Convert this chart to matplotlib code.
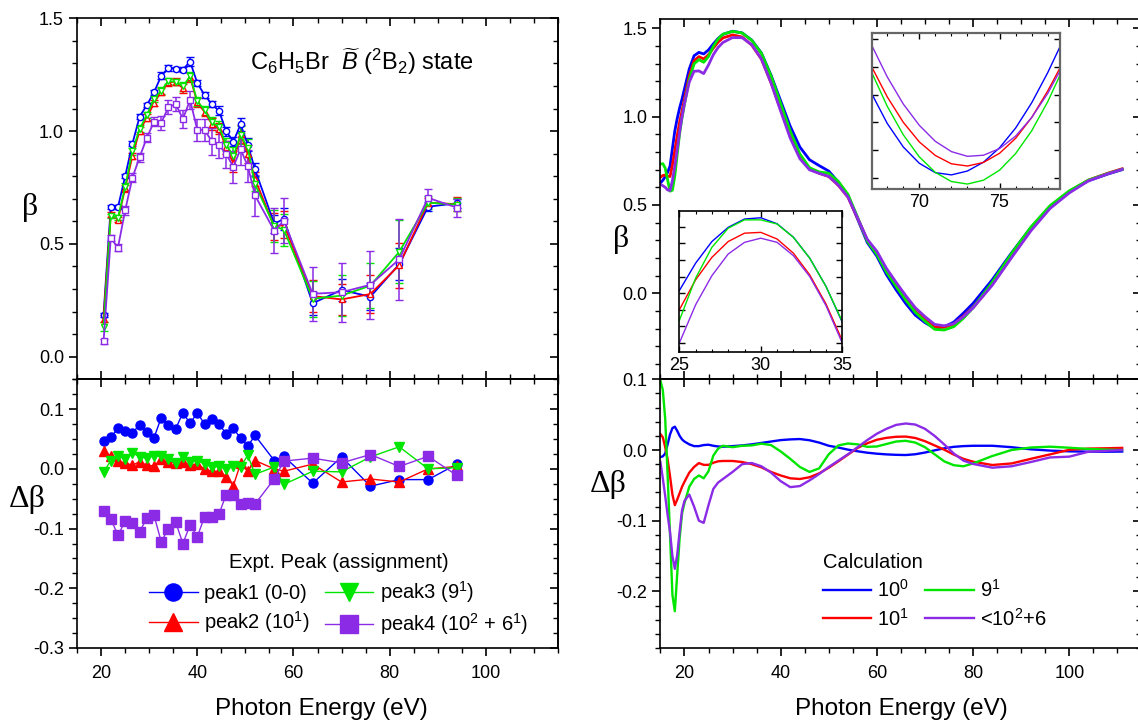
import matplotlib
matplotlib.use('Agg')
import matplotlib.pyplot as plt
from matplotlib.ticker import MultipleLocator, NullFormatter

plt.rcParams['font.family'] = 'Liberation Sans'
plt.rcParams['mathtext.fontset'] = 'custom'
plt.rcParams['mathtext.rm'] = 'Liberation Sans'
plt.rcParams['mathtext.it'] = 'Liberation Sans:italic'
plt.rcParams['axes.linewidth'] = 1.2

BLUE, RED, GREEN, PURPLE = '#0000ff', '#ff0000', '#00e600', '#8b2be6'

# ---- experimental data (left panels) ----
expt_E = [20.5, 22, 23.5, 25, 26.5, 28, 29.5, 31, 32.5, 34, 35.5, 37, 38.5, 40, 41.5,
          43, 44.5, 46, 47.5, 49, 50.5, 52, 56, 58, 64, 70, 76, 82, 88, 94]

beta_peak1 = [0.185, 0.663, 0.663, 0.800, 0.944, 1.064, 1.115, 1.172, 1.245, 1.280, 1.276, 1.273,
              1.308, 1.213, 1.160, 1.120, 1.090, 1.000, 0.953, 1.030, 0.940, 0.830, 0.590, 0.610,
              0.237, 0.296, 0.266, 0.410, 0.665, 0.680]
beta_peak2 = [0.169, 0.631, 0.608, 0.747, 0.890, 1.002, 1.059, 1.125, 1.175, 1.217, 1.219, 1.190,
              1.239, 1.127, 1.085, 1.032, 1.011, 0.928, 0.857, 0.988, 0.898, 0.788, 0.576, 0.585,
              0.269, 0.254, 0.278, 0.406, 0.683, 0.676]
beta_peak3 = [0.133, 0.624, 0.616, 0.754, 0.911, 1.010, 1.071, 1.142, 1.180, 1.222, 1.218, 1.199,
              1.243, 1.133, 1.093, 1.039, 1.019, 0.940, 0.889, 0.982, 0.925, 0.765, 0.579, 0.563,
              0.257, 0.271, 0.315, 0.465, 0.683, 0.674]
beta_peak4 = [0.068, 0.526, 0.484, 0.649, 0.793, 0.885, 0.970, 1.042, 1.037, 1.106, 1.120, 1.054,
              1.138, 1.005, 1.005, 0.956, 0.939, 0.898, 0.842, 0.920, 0.845, 0.715, 0.559, 0.602,
              0.279, 0.286, 0.319, 0.432, 0.704, 0.661]

err_peak1 = [0.01, 0.01, 0.01, 0.01, 0.01, 0.01, 0.01, 0.01, 0.015, 0.015, 0.01, 0.01, 0.02, 0.015,
             0.015, 0.015, 0.02, 0.02, 0.02, 0.03, 0.03, 0.03, 0.04, 0.05, 0.05, 0.05, 0.06, 0.07,
             0.02, 0.02]
err_peak2 = [0.015, 0.01, 0.01, 0.015, 0.015, 0.015, 0.015, 0.015, 0.015, 0.015, 0.015, 0.02, 0.02,
             0.02, 0.02, 0.025, 0.025, 0.03, 0.04, 0.04, 0.04, 0.03, 0.06, 0.06, 0.07, 0.07, 0.085,
             0.1, 0.02, 0.03]
err_peak3 = [0.02, 0.01, 0.01, 0.015, 0.015, 0.015, 0.015, 0.015, 0.015, 0.015, 0.015, 0.02, 0.02,
             0.02, 0.02, 0.025, 0.025, 0.03, 0.04, 0.04, 0.04, 0.03, 0.07, 0.07, 0.08, 0.09, 0.1,
             0.14, 0.03, 0.03]
err_peak4 = [0.01, 0.015, 0.015, 0.02, 0.02, 0.02, 0.02, 0.02, 0.03, 0.03, 0.03, 0.04, 0.04, 0.05,
             0.05, 0.06, 0.06, 0.06, 0.07, 0.07, 0.07, 0.09, 0.1, 0.1, 0.12, 0.13, 0.15, 0.18,
             0.04, 0.04]

dbeta_peak1 = [0.046, 0.053, 0.068, 0.063, 0.060, 0.074, 0.062, 0.052, 0.086, 0.074, 0.067, 0.094,
               0.076, 0.094, 0.075, 0.084, 0.075, 0.059, 0.068, 0.051, 0.038, 0.056, 0.014, 0.021,
               -0.024, 0.020, -0.029, -0.018, -0.018, 0.008]
dbeta_peak2 = [0.030, 0.021, 0.013, 0.010, 0.006, 0.012, 0.006, 0.005, 0.016, 0.011, 0.010, 0.011,
               0.007, 0.008, 0.0, -0.004, -0.004, -0.013, -0.028, 0.009, -0.004, 0.014, 0.0, -0.004,
               0.008, -0.022, -0.017, -0.022, 0.0, 0.004]
dbeta_peak3 = [-0.006, 0.014, 0.021, 0.017, 0.027, 0.020, 0.018, 0.022, 0.021, 0.016, 0.009, 0.020,
               0.011, 0.014, 0.008, 0.003, 0.004, -0.001, 0.004, 0.003, 0.023, -0.009, 0.003, -0.026,
               -0.004, -0.005, 0.020, 0.037, 0.0, 0.002]
dbeta_peak4 = [-0.071, -0.084, -0.111, -0.088, -0.091, -0.105, -0.083, -0.078, -0.122, -0.100,
               -0.089, -0.125, -0.094, -0.114, -0.080, -0.080, -0.076, -0.043, -0.043, -0.059,
               -0.057, -0.059, -0.017, 0.013, 0.018, 0.010, 0.024, 0.004, 0.021, -0.011]

expt_labels = ['peak1 (0-0)', 'peak2 (10$^1$)', 'peak3 (9$^1$)', 'peak4 (10$^2$ + 6$^1$)']

# ---- calculated curves (right panels) ----
calc_E = [15, 15.5, 16, 16.5, 17, 17.5, 18, 18.5, 19, 19.5, 20, 21, 22, 23, 24, 25, 26, 27, 28,
          30, 32, 34, 36, 38, 40, 42, 44, 46, 48, 50, 52, 54, 56, 58, 60, 62, 64, 66, 68, 70,
          72, 74, 76, 78, 80, 84, 88, 92, 96, 100, 104, 108, 111]

beta_c100 = [0.624, 0.64, 0.66, 0.685, 0.72, 0.82, 0.92, 0.99, 1.05, 1.10, 1.157, 1.27, 1.345,
             1.364, 1.355, 1.378, 1.412, 1.443, 1.466, 1.484, 1.474, 1.433, 1.36, 1.235, 1.09,
             0.945, 0.828, 0.756, 0.723, 0.692, 0.63, 0.551, 0.42, 0.288, 0.21, 0.105, 0.02,
             -0.058, -0.124, -0.166, -0.198, -0.19, -0.163, -0.112, -0.057, 0.077, 0.229, 0.371,
             0.49, 0.575, 0.637, 0.675, 0.70]
beta_c101 = [0.657, 0.667, 0.669, 0.664, 0.661, 0.726, 0.809, 0.893, 0.969, 1.033, 1.100, 1.230,
             1.316, 1.340, 1.327, 1.350, 1.388, 1.422, 1.446, 1.463, 1.451, 1.405, 1.326, 1.192,
             1.040, 0.890, 0.772, 0.704, 0.680, 0.661, 0.611, 0.544, 0.425, 0.301, 0.230, 0.128,
             0.046, -0.032, -0.101, -0.150, -0.191, -0.192, -0.174, -0.130, -0.080, 0.050, 0.206,
             0.358, 0.485, 0.577, 0.641, 0.680, 0.705]
beta_c91 = [0.732, 0.734, 0.709, 0.642, 0.578, 0.584, 0.665, 0.788, 0.905, 0.995, 1.070, 1.210,
            1.299, 1.323, 1.308, 1.341, 1.398, 1.440, 1.467, 1.483, 1.474, 1.432, 1.359, 1.231,
            1.075, 0.918, 0.789, 0.711, 0.687, 0.680, 0.633, 0.560, 0.430, 0.296, 0.220, 0.120,
            0.039, -0.038, -0.108, -0.158, -0.204, -0.208, -0.189, -0.141, -0.082, 0.063, 0.225,
            0.374, 0.496, 0.580, 0.641, 0.678, 0.702]
beta_c102 = [0.617, 0.609, 0.600, 0.585, 0.582, 0.639, 0.719, 0.815, 0.915, 1.000, 1.073, 1.196,
             1.257, 1.259, 1.244, 1.293, 1.351, 1.392, 1.420, 1.448, 1.447, 1.407, 1.327, 1.191,
             1.032, 0.878, 0.762, 0.699, 0.679, 0.662, 0.612, 0.545, 0.426, 0.306, 0.238, 0.141,
             0.062, -0.013, -0.082, -0.132, -0.176, -0.184, -0.172, -0.133, -0.083, 0.046, 0.202,
             0.353, 0.480, 0.568, 0.637, 0.676, 0.702]

dbeta_c100 = [-0.010, -0.009, -0.005, 0.008, 0.022, 0.031, 0.033, 0.027, 0.020, 0.015, 0.012,
              0.008, 0.0055, 0.0055, 0.007, 0.0075, 0.006, 0.005, 0.0047, 0.0055, 0.0065, 0.008,
              0.010, 0.012, 0.014, 0.015, 0.0155, 0.0138, 0.0105, 0.006, 0.0035, 0.0005, -0.0018,
              -0.0038, -0.0052, -0.0062, -0.0068, -0.0071, -0.006, -0.0036, -0.0005, 0.0024,
              0.0045, 0.0055, 0.006, 0.006, 0.004, 0.001, -0.0008, -0.0019, -0.0023, -0.0024,
              -0.0022]
dbeta_c101 = [0.0226, 0.018, 0.004, -0.013, -0.037, -0.063, -0.078, -0.070, -0.061, -0.052,
              -0.045, -0.032, -0.024, -0.0185, -0.021, -0.021, -0.018, -0.016, -0.0155, -0.0155,
              -0.017, -0.020, -0.0245, -0.031, -0.036, -0.040, -0.041, -0.0385, -0.033, -0.025,
              -0.016, -0.0065, 0.003, 0.0095, 0.0145, 0.0172, 0.0187, 0.019, 0.017, 0.0125, 0.0065,
              0.0005, -0.0065, -0.0125, -0.0165, -0.0212, -0.019, -0.0125, -0.0062, 0.0003, 0.002,
              0.0025, 0.003]
dbeta_c91 = [0.098, 0.085, 0.044, -0.035, -0.120, -0.205, -0.228, -0.175, -0.125, -0.090, -0.075,
             -0.052, -0.041, -0.036, -0.040, -0.030, -0.008, 0.002, 0.006, 0.004, 0.006, 0.0065,
             0.009, 0.007, -0.002, -0.0125, -0.024, -0.031, -0.026, -0.006, 0.0065, 0.0092, 0.008,
             0.0045, 0.005, 0.0085, 0.012, 0.013, 0.0105, 0.004, -0.006, -0.016, -0.0215, -0.023,
             -0.019, -0.0085, 0.0, 0.0035, 0.0047, 0.0032, 0.0015, 0.0005, 0.0]
dbeta_c102 = [-0.017, -0.040, -0.065, -0.092, -0.116, -0.150, -0.168, -0.148, -0.115, -0.085,
              -0.072, -0.063, -0.080, -0.100, -0.103, -0.078, -0.055, -0.046, -0.041, -0.031,
              -0.020, -0.0184, -0.023, -0.032, -0.044, -0.0525, -0.051, -0.043, -0.034, -0.024,
              -0.015, -0.006, 0.004, 0.014, 0.023, 0.030, 0.0355, 0.0375, 0.036, 0.030, 0.020,
              0.008, -0.005, -0.015, -0.0197, -0.025, -0.023, -0.017, -0.0105, -0.0094, -0.0024,
              -0.001, 0.0]

calc_labels = ['10$^0$', '10$^1$', '9$^1$', '<10$^2$+6']

# insets
ins1_E = [67, 68, 69, 70, 71, 72, 73, 74, 75, 76, 77, 78, 78.8]
ins1_c100 = [-0.1793, -0.1904, -0.1989, -0.2048, -0.2082, -0.2090, -0.2076, -0.2044, -0.1992,
             -0.1921, -0.1830, -0.1721, -0.1623]
ins1_c101 = [-0.1696, -0.1808, -0.1900, -0.1971, -0.2020, -0.2050, -0.2058, -0.2045, -0.2012,
             -0.1958, -0.1883, -0.1787, -0.1700]
ins1_c91 = [-0.1716, -0.1842, -0.1945, -0.2025, -0.2081, -0.2114, -0.2123, -0.2109, -0.2073,
            -0.2013, -0.1931, -0.1826, -0.1726]
ins1_c102 = [-0.1618, -0.1736, -0.1834, -0.1911, -0.1969, -0.2006, -0.2023, -0.2019, -0.1995,
             -0.1950, -0.1883, -0.1796, -0.1711]

ins2_E = [25, 26, 27, 28, 29, 30, 31, 32, 33, 34, 35]
ins2_c100 = [1.403, 1.436, 1.462, 1.479, 1.489, 1.4905, 1.4833, 1.4672, 1.4421, 1.4081, 1.365]
ins2_c101 = [1.380, 1.416, 1.443, 1.462, 1.472, 1.473, 1.465, 1.448, 1.422, 1.387, 1.343]
ins2_c91 = [1.367, 1.418, 1.455, 1.478, 1.488, 1.488, 1.483, 1.467, 1.442, 1.408, 1.366]
ins2_c102 = [1.340, 1.386, 1.421, 1.447, 1.461, 1.466, 1.461, 1.445, 1.420, 1.385, 1.340]

colors = [BLUE, RED, GREEN, PURPLE]
markers = ['o', '^', 'v', 's']

W, H = 1138, 721
fig = plt.figure(figsize=(W / 100, H / 100), dpi=100)


def px_axes(x0, x1, y0, y1):
    return fig.add_axes([x0 / W, 1 - y1 / H, (x1 - x0) / W, (y1 - y0) / H])


def style(ax, ymaj, ymin, x_out):
    ax.set_xlim(15, 115)
    ax.xaxis.set_major_locator(MultipleLocator(20))
    ax.xaxis.set_minor_locator(MultipleLocator(5))
    ax.yaxis.set_major_locator(MultipleLocator(ymaj))
    ax.yaxis.set_minor_locator(MultipleLocator(ymin))
    ax.tick_params(which='major', length=6, width=1.2, labelsize=13)
    ax.tick_params(which='minor', length=3.5, width=1.0)
    ax.tick_params(axis='y', which='both', direction='out', left=True, right=False)
    ax.tick_params(axis='x', pad=6)
    if x_out:
        ax.tick_params(axis='x', which='both', direction='out', top=False)
        sx = ax.secondary_xaxis('top')
        sx.xaxis.set_major_locator(MultipleLocator(20))
        sx.xaxis.set_minor_locator(MultipleLocator(5))
        sx.xaxis.set_major_formatter(NullFormatter())
        sx.tick_params(which='both', direction='in', labeltop=False)
        sx.tick_params(which='major', length=6, width=1.2)
        sx.tick_params(which='minor', length=3.5, width=1.0)
    else:
        ax.tick_params(axis='x', which='both', direction='in', top=True, bottom=True,
                       labelbottom=False)
    sy = ax.secondary_yaxis('right')
    sy.yaxis.set_major_locator(MultipleLocator(ymaj))
    sy.yaxis.set_minor_locator(MultipleLocator(ymin))
    sy.yaxis.set_major_formatter(NullFormatter())
    sy.tick_params(which='both', direction='in', labelright=False)
    sy.tick_params(which='major', length=6, width=1.2)
    sy.tick_params(which='minor', length=3.5, width=1.0)


serif = 'Liberation Serif'

# ---------------- left top ----------------
axLT = px_axes(77.1, 557.9, 18.3, 379.3)
for y, e, c, m in zip([beta_peak1, beta_peak2, beta_peak3, beta_peak4],
                      [err_peak1, err_peak2, err_peak3, err_peak4], colors, markers):
    axLT.errorbar(expt_E, y, yerr=e, color=c, marker=m, ms=4.5, mfc='white', mec=c, mew=1.0,
                  lw=1.3, elinewidth=1.1, capsize=3, capthick=1.1)
axLT.set_ylim(-0.1, 1.5)
style(axLT, 0.5, 0.1, False)
axLT.yaxis.set_major_formatter(plt.FormatStrFormatter('%.1f'))
axLT.set_ylabel('β', rotation=0, fontfamily=serif, fontsize=23, ha='center', va='center')
axLT.yaxis.set_label_coords(-0.098, 0.477)
axLT.text(0.36, 0.857, r'C$_6$H$_5$Br  $\widetilde{B}$ ($^2$B$_2$) state',
          transform=axLT.transAxes, fontsize=17, va='baseline', ha='left')

# ---------------- left bottom ----------------
axLB = px_axes(77.1, 557.9, 379.3, 648)
for d, c, m, lab in zip([dbeta_peak1, dbeta_peak2, dbeta_peak3, dbeta_peak4], colors, markers,
                        expt_labels):
    axLB.plot(expt_E, d, color=c, marker=m, ms=6.5, lw=1.0, label=lab)
axLB.set_ylim(-0.3, 0.15)
style(axLB, 0.1, 0.025, True)
axLB.yaxis.set_major_formatter(plt.FormatStrFormatter('%.1f'))
axLB.set_ylabel('Δβ', rotation=0, fontfamily=serif, fontsize=23, ha='center', va='center')
axLB.yaxis.set_label_coords(-0.103, 0.551)
axLB.set_xlabel('Photon Energy (eV)', fontsize=17.5, va='center')
axLB.xaxis.set_label_coords(0.509, -0.228)
axLB.legend(ncol=2, title='Expt. Peak (assignment)', frameon=False, fontsize=14.5,
            title_fontsize=14.5, loc='upper left', bbox_to_anchor=(0.129, 0.39), borderpad=0,
            handlelength=2.4, handletextpad=0.3, columnspacing=0.8, labelspacing=0.33,
            markerscale=1.9)

# ---------------- right top ----------------
axRT = px_axes(660.4, 1141.4, 19, 379.3)
for b, c in zip([beta_c100, beta_c101, beta_c91, beta_c102], colors):
    axRT.plot(calc_E, b, color=c, lw=2.0)
axRT.set_ylim(-0.487, 1.553)
style(axRT, 0.5, 0.1, False)
axRT.yaxis.set_major_formatter(plt.FormatStrFormatter('%.1f'))
axRT.set_ylabel('β', rotation=0, fontfamily=serif, fontsize=23, ha='center', va='center')
axRT.yaxis.set_label_coords(-0.082, 0.387)

# ---------------- right bottom ----------------
axRB = px_axes(660.4, 1141.4, 379.3, 648)
for d, c, lab in zip([dbeta_c100, dbeta_c101, dbeta_c91, dbeta_c102], colors, calc_labels):
    axRB.plot(calc_E, d, color=c, lw=1.7, label=lab)
axRB.set_ylim(-0.28, 0.1)
style(axRB, 0.1, 0.02, True)
axRB.yaxis.set_major_formatter(plt.FormatStrFormatter('%.1f'))
axRB.set_ylabel('Δβ', rotation=0, fontfamily=serif, fontsize=23, ha='center', va='center')
axRB.yaxis.set_label_coords(-0.108, 0.607)
axRB.set_xlabel('Photon Energy (eV)', fontsize=17.5, va='center')
axRB.xaxis.set_label_coords(0.501, -0.228)
axRB.legend(ncol=2, title='Calculation', alignment='left', frameon=False, fontsize=14.5,
            title_fontsize=14.5, loc='upper left', bbox_to_anchor=(0.317, 0.39), borderpad=0,
            handlelength=2.4, handletextpad=0.3, columnspacing=0.8, labelspacing=0.33)

# ---------------- insets ----------------
in1 = px_axes(872.1, 1059.6, 33.3, 189.3)
for b, c in zip([ins1_c100, ins1_c101, ins1_c91, ins1_c102], colors):
    in1.plot(ins1_E, b, color=c, lw=1.0)
in1.set_xlim(67.06, 78.74)
in1.set_ylim(-0.2142, -0.1579)
in1.xaxis.set_major_locator(MultipleLocator(5))
in1.xaxis.set_minor_locator(MultipleLocator(1))
in1.yaxis.set_major_locator(MultipleLocator(0.01))
in1.yaxis.set_major_formatter(NullFormatter())
in1.tick_params(which='both', direction='in', top=True, right=True, labelsize=13)
in1.tick_params(which='major', length=4, width=1.0)
in1.tick_params(which='minor', length=2.5, width=0.8)
for s in in1.spines.values():
    s.set_color('#666666')
    s.set_linewidth(1.6)

in2 = px_axes(679.3, 842.3, 210.7, 352.3)
for b, c in zip([ins2_c100, ins2_c101, ins2_c91, ins2_c102], colors):
    in2.plot(ins2_E, b, color=c, lw=1.0)
in2.set_xlim(25, 35)
in2.set_ylim(1.329, 1.499)
in2.xaxis.set_major_locator(MultipleLocator(5))
in2.xaxis.set_minor_locator(MultipleLocator(1))
in2.yaxis.set_major_locator(MultipleLocator(0.02))
in2.yaxis.set_major_formatter(NullFormatter())
in2.tick_params(which='both', direction='in', top=True, right=True, labelsize=13)
in2.tick_params(which='major', length=4, width=1.0)
in2.tick_params(which='minor', length=2.5, width=0.8)
for s in in2.spines.values():
    s.set_linewidth(1.2)

fig.savefig('out.png', dpi=100)
